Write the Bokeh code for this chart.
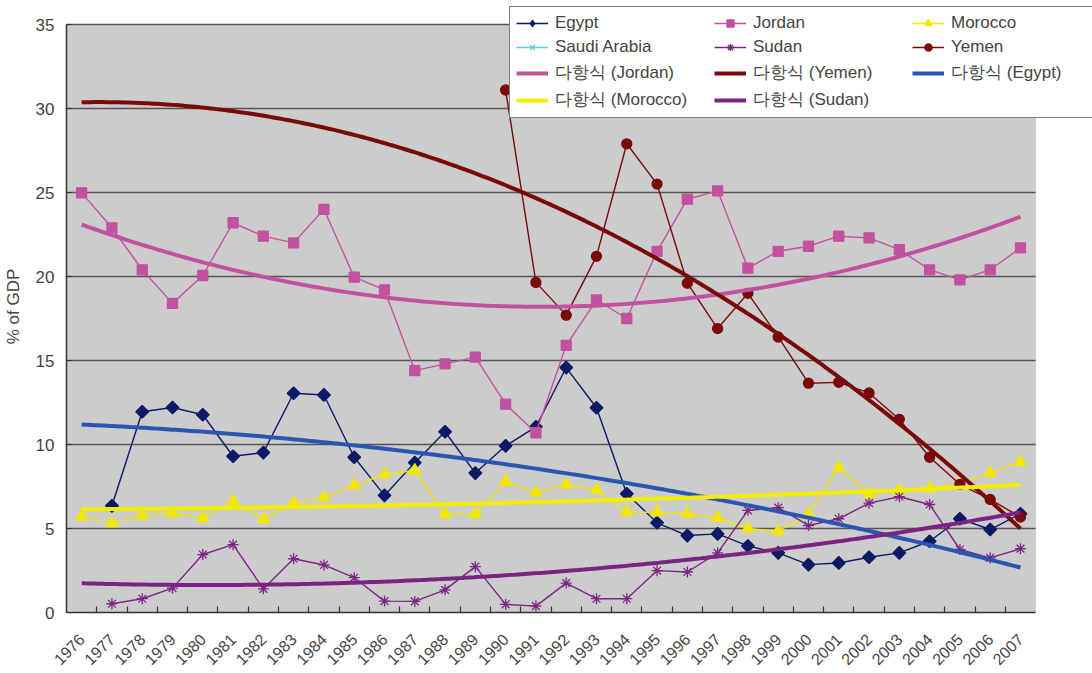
import math
import numpy as np
from bokeh.plotting import figure
from bokeh.models import (Range1d, FixedTicker, Legend, LegendItem, ColumnDataSource,
                          BoxAnnotation)
from bokeh.embed import file_html
from bokeh.resources import INLINE

years = ["1976", "1977", "1978", "1979", "1980", "1981", "1982", "1983", "1984", "1985",
         "1986", "1987", "1988", "1989", "1990", "1991", "1992", "1993", "1994", "1995",
         "1996", "1997", "1998", "1999", "2000", "2001", "2002", "2003", "2004", "2005",
         "2006", "2007"]

egypt = [None, 6.35, 11.95, 12.2, 11.77, 9.3, 9.52, 13.05, 12.95, 9.24, 6.97, 8.92, 10.76, 8.3,
         9.92, 11.05, 14.58, 12.19, 7.07, 5.34, 4.58, 4.68, 3.96, 3.55, 2.85, 2.95, 3.29, 3.55,
         4.24, 5.58, 4.94, 5.88]
jordan = [24.98, 22.9, 20.4, 18.4, 20.06, 23.2, 22.4, 22.0, 24.0, 19.96, 19.2, 14.4, 14.8, 15.2,
          12.4, 10.7, 15.9, 18.6, 17.5, 21.5, 24.6, 25.1, 20.5, 21.5, 21.8, 22.4, 22.3, 21.6,
          20.4, 19.8, 20.4, 21.7]
morocco = [5.72, 5.32, 5.78, 5.92, 5.62, 6.63, 5.54, 6.51, 6.85, 7.57, 8.23, 8.45, 5.86, 5.86,
           7.79, 7.13, 7.63, 7.31, 5.98, 5.96, 5.88, 5.64, 5.0, 4.84, 5.84, 8.63, 7.07, 7.27,
           7.39, 7.69, 8.31, 8.96]
saudi = [None, None, None, None, None, None, None, None, None, None, None, None, None, None,
         None, None, None, None, None, None, None, None, None, None, None, None, None, None,
         None, None, None, None]
sudan = [None, 0.52, 0.82, 1.45, 3.45, 4.04, 1.41, 3.2, 2.83, 2.07, 0.68, 0.66, 1.35, 2.73,
         0.48, 0.38, 1.75, 0.82, 0.82, 2.49, 2.41, 3.55, 6.08, 6.24, 5.18, 5.58, 6.51, 6.89,
         6.43, 3.75, 3.25, 3.8]
yemen = [None, None, None, None, None, None, None, None, None, None, None, None, None, None,
         31.1, 19.65, 17.7, 21.2, 27.9, 25.5, 19.6, 16.9, 19.0, 16.4, 13.65, 13.7, 13.07, 11.5,
         9.24, 7.63, 6.73, 5.68]

y_ticks = [0, 5, 10, 15, 20, 25, 30, 35]
trend_prefix = "다항식"

N = len(years)
xpos = [i + 0.5 for i in range(N)]
Y_MAX = y_ticks[-1]


def clean(v):
    return [float("nan") if a is None else float(a) for a in v]


FONT = "Liberation Sans"

# frame spans the whole area right of the y axis and above the x axis, so that the
# legend (which overlaps the top and the right margin) is not clipped; the grey
# plot area is drawn as a box over the data extent.
LEFT, BOTTOM = 64, 61
W, H = 1092, 673
px_per_x = 971.0 / N
px_per_y = 588.0 / Y_MAX
x_end = (W - LEFT) / px_per_x
y_end = (H - BOTTOM) / px_per_y

p = figure(width=W, height=H, output_backend="svg", toolbar_location=None,
           x_range=Range1d(0, x_end), y_range=Range1d(0, y_end),
           min_border_left=LEFT, min_border_right=0, min_border_top=0, min_border_bottom=BOTTOM)
p.background_fill_color = "white"
p.border_fill_color = "white"
p.outline_line_color = None
p.xgrid.grid_line_color = None
p.ygrid.grid_line_color = None

area = BoxAnnotation(left=0, right=N, bottom=0, top=Y_MAX, fill_color="#cccccc", fill_alpha=1.0,
                     line_color="#9a9a9a", line_width=1, level="underlay")
p.add_layout(area)

grid_y = y_ticks[1:]
p.segment(x0=[0] * len(grid_y), y0=grid_y, x1=[N] * len(grid_y), y1=grid_y,
          line_color="#555555", line_width=1.3)

# y axis
p.yaxis.ticker = FixedTicker(ticks=y_ticks)
p.yaxis.bounds = (0, Y_MAX)
p.yaxis.axis_label = "% of GDP"
p.yaxis.axis_label_text_font = FONT
p.yaxis.axis_label_text_font_size = "17px"
p.yaxis.axis_label_text_font_style = "normal"
p.yaxis.axis_label_standoff = 10
p.yaxis.major_label_text_font = FONT
p.yaxis.major_label_text_font_size = "17px"
p.yaxis.major_label_standoff = 12
p.yaxis.major_tick_in = 5
p.yaxis.major_tick_out = 0
p.yaxis.minor_tick_line_color = None
p.yaxis.axis_line_color = "#333333"
p.yaxis.axis_line_width = 1.5
p.yaxis.major_tick_line_color = "#333333"

# x axis: labels at category centres, ticks between categories
p.xaxis.ticker = FixedTicker(ticks=xpos, minor_ticks=list(range(1, N)))
p.xaxis.bounds = (0, N)
p.xaxis.major_label_overrides = {x: y for x, y in zip(xpos, years)}
p.xaxis.major_label_orientation = math.pi / 4
p.xaxis.major_label_text_font = FONT
p.xaxis.major_label_text_font_size = "16px"
p.xaxis.major_label_standoff = 24
p.xaxis.major_tick_in = 0
p.xaxis.major_tick_out = 0
p.xaxis.minor_tick_in = 6
p.xaxis.minor_tick_out = 0
p.xaxis.minor_tick_line_color = "#333333"
p.xaxis.minor_tick_line_width = 1.2
p.xaxis.axis_line_color = "#333333"
p.xaxis.axis_line_width = 1.5

series = [
    ("Egypt", egypt, "#0d1a66", "square", 9, math.pi / 4),
    ("Jordan", jordan, "#c2519f", "square", 10, 0.0),
    ("Morocco", morocco, "#f2e800", "triangle", 12, 0.0),
    ("Saudi Arabia", saudi, "#66ccdd", "x", 11, 0.0),
    ("Sudan", sudan, "#7b2680", "asterisk", 11, 0.0),
    ("Yemen", yemen, "#7a0a0a", "circle", 10, 0.0),
]

items = {}
for name, vals, color, marker, size, ang in series:
    src = ColumnDataSource(dict(x=xpos, y=clean(vals)))
    l = p.line("x", "y", source=src, line_color=color, line_width=1.4)
    s = p.scatter("x", "y", source=src, marker=marker, size=size, angle=ang,
                  fill_color=color, line_color=color, line_width=1.3)
    items[name] = [l, s]

# legend-only glyph so that the Egypt legend entry shows a diamond
nan_src = ColumnDataSource(dict(x=[float("nan")], y=[float("nan")]))
egypt_key = p.scatter("x", "y", source=nan_src, marker="diamond", size=13,
                      fill_color="#0d1a66", line_color="#0d1a66")
items["Egypt"] = [items["Egypt"][0], egypt_key]

trends = [
    ("Jordan", jordan, "#c2519f"),
    ("Yemen", yemen, "#7a0a0a"),
    ("Egypt", egypt, "#2a55b0"),
    ("Morocco", morocco, "#f5ee00"),
    ("Sudan", sudan, "#7a2382"),
]
trend_items = {}
xt = np.linspace(0.5, N - 0.5, 300)
for name, vals, color in trends:
    v = np.array(clean(vals))
    xa = np.array(xpos)
    m = ~np.isnan(v)
    coef = np.polyfit(xa[m], v[m], 2)
    yt = np.polyval(coef, xt)
    r = p.line(xt, yt, line_color=color, line_width=4)
    trend_items[name] = [r]

# Bokeh fills legend columns top-to-bottom: list items column by column
order = [
    ("Egypt", items["Egypt"]), ("Saudi Arabia", items["Saudi Arabia"]),
    (f"{trend_prefix} (Jordan)", trend_items["Jordan"]), (f"{trend_prefix} (Morocco)", trend_items["Morocco"]),
    ("Jordan", items["Jordan"]), ("Sudan", items["Sudan"]),
    (f"{trend_prefix} (Yemen)", trend_items["Yemen"]), (f"{trend_prefix} (Sudan)", trend_items["Sudan"]),
    ("Morocco", items["Morocco"]), ("Yemen", items["Yemen"]),
    (f"{trend_prefix} (Egypt)", trend_items["Egypt"]),
]
legend = Legend(items=[LegendItem(label=lab, renderers=rs) for lab, rs in order],
                location=(443, 494), ncols=3,
                label_text_font=FONT, label_text_font_size="17px",
                glyph_width=32, glyph_height=18, label_height=18, label_width=155,
                label_standoff=7, spacing=4, padding=6, margin=0,
                border_line_color="black", border_line_width=1,
                background_fill_color="white", background_fill_alpha=1.0)
p.add_layout(legend)

open("out.html", "w").write(file_html(p, INLINE))
